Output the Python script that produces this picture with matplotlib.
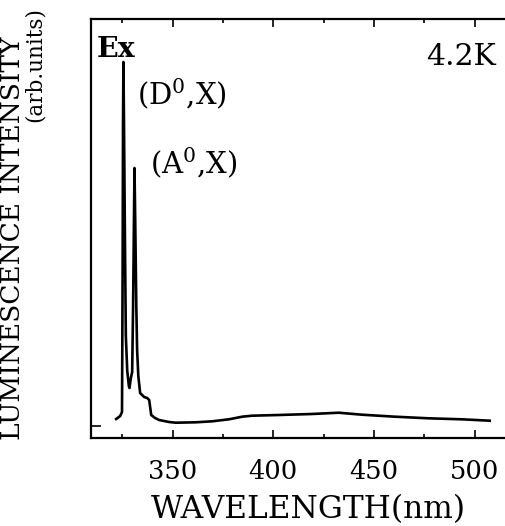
import matplotlib
matplotlib.use("Agg")
import matplotlib.pyplot as plt
from matplotlib.ticker import MultipleLocator

plt.rcParams['font.family'] = ['DejaVu Serif']
plt.rcParams['mathtext.fontset'] = 'dejavuserif'

# spectrum (wavelength nm, intensity arb.)
wavelength = [322.0, 324.0, 324.9, 325.2, 325.4, 325.6, 325.9, 326.3, 326.8, 327.5,
              328.3, 328.6, 329.3, 329.95, 330.4, 330.8, 331.1, 331.5, 332.0, 332.4,
              333.0, 333.9, 335.9, 337.4, 338.4, 339.4, 341.3, 343.3, 348.3, 351.6,
              361.5, 369.7, 378.0, 384.6, 389.4, 402.7, 419.2, 432.5, 444.0, 460.5,
              477.0, 493.5, 507.5]
intensity = [7, 10, 14, 150, 300, 364, 300, 200, 90, 55,
             40, 38, 48, 54, 120, 200, 258, 200, 120, 76,
             50, 33, 29, 28, 26, 11, 8, 6, 4, 3.3,
             3.7, 4.7, 6.7, 9.3, 10.3, 11, 12, 13.3, 11.3, 9.3,
             7.7, 6.7, 5.3]

x_major = [350, 400, 450, 500]
peak_labels = ["Ex", "(D$^{0}$,X)", "(A$^{0}$,X)"]

W, H = 506, 526
fig = plt.figure(figsize=(W / 100, H / 100), dpi=100)
ax = fig.add_axes([91 / W, (H - 438) / H, 444 / W, (438 - 19) / H])

ax.plot(wavelength, intensity, color='black', lw=1.9, solid_joinstyle='round')

ax.set_xlim(309.5, 530)
ax.set_ylim(-12, 407)
ax.set_xticks(x_major)
ax.xaxis.set_minor_locator(MultipleLocator(25))
ax.set_yticks([0])
ax.set_yticklabels([])
ax.tick_params(axis='x', which='major', direction='in', length=6, width=1.2,
               top=True, labelsize=18.5, pad=15)
ax.tick_params(axis='x', which='minor', direction='in', length=3, width=1.2, top=True)
ax.tick_params(axis='y', direction='in', length=7, width=1.2)
for s in ax.spines.values():
    s.set_linewidth(1.6)

# peak labels
fig.text(97 / W, 1 - 36 / H, peak_labels[0], fontsize=20.5, ha='left', va='top',
         fontweight='bold')
fig.text(182 / W, 1 - 94 / H, peak_labels[1], fontsize=21, ha='center', va='center')
fig.text(194 / W, 1 - 163 / H, peak_labels[2], fontsize=21, ha='center', va='center')
fig.text(461 / W, 1 - 57 / H, "4.2K", fontsize=21.5, ha='center', va='center')

# axis titles
fig.text(308 / W, 1 - 510 / H, "WAVELENGTH(nm)", fontsize=22.5, ha='center', va='center')
fig.text(0.5 / W, 1 - 238 / H, "LUMINESCENCE INTENSITY", fontsize=19, rotation=90,
         ha='left', va='center')
fig.text(35 / W, 1 - 65 / H, "(arb.units)", fontsize=15.5, rotation=90,
         ha='center', va='center')

fig.savefig("out.png", dpi=100)
